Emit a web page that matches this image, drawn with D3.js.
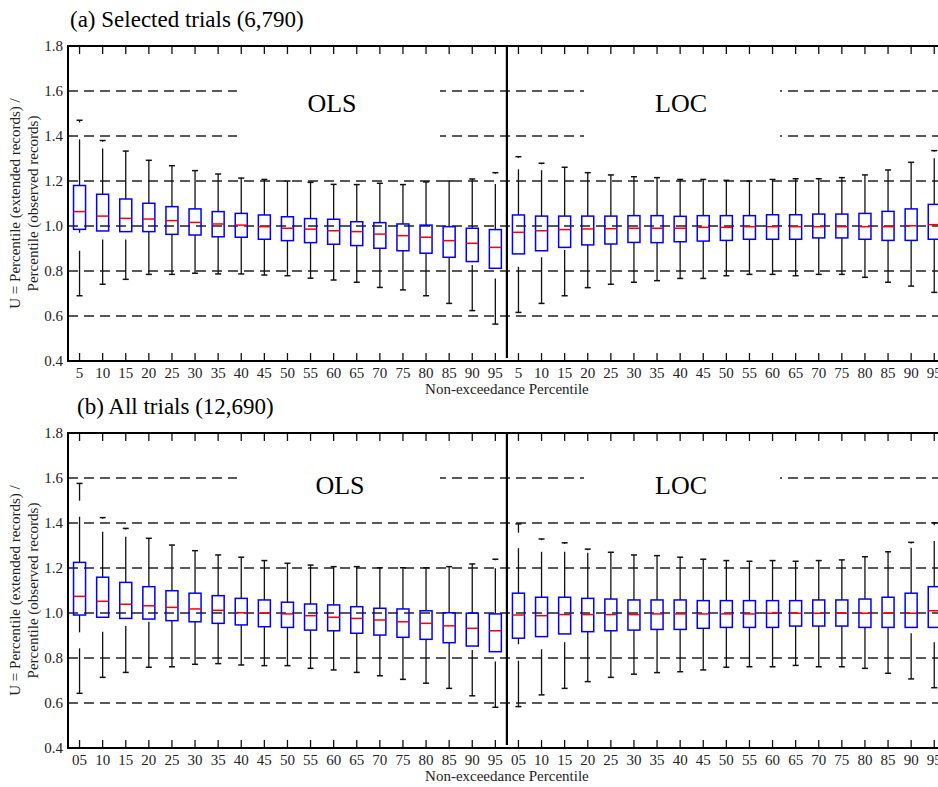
<!DOCTYPE html>
<html>
<head>
<meta charset="utf-8">
<script src="https://cdn.jsdelivr.net/npm/d3@7"></script>
<style>
  html, body { margin: 0; padding: 0; background: #fff; }
  svg { display: block; font-family: "Liberation Serif", "Times New Roman", serif; }
</style>
</head>
<body>
<div id="chart"></div>
<script>
// categories: 19 non-exceedance percentiles for OLS, then the same 19 for LOC
const percentiles = [5, 10, 15, 20, 25, 30, 35, 40, 45, 50, 55, 60, 65, 70, 75, 80, 85, 90, 95];
const methods = ["OLS", "LOC"];
const tickLabelsA = ["5","10","15","20","25","30","35","40","45","50","55","60","65","70","75","80","85","90","95"];
const tickLabelsB = ["05","10","15","20","25","30","35","40","45","50","55","60","65","70","75","80","85","90","95"];
const yTicks = [0.4, 0.6, 0.8, 1.0, 1.2, 1.4, 1.6, 1.8];

// (a) Selected trials -- OLS 5..95 then LOC 5..95
const selQ1  = [.985,.978,.975,.975,.963,.96,.952,.95,.941,.935,.926,.919,.913,.901,.89,.879,.861,.842,.812,
                .876,.89,.905,.916,.92,.927,.926,.93,.933,.936,.941,.941,.941,.947,.947,.941,.936,.936,.941];
const selMed = [1.064,1.044,1.034,1.031,1.024,1.016,1.009,1.004,.997,.99,.986,.979,.975,.964,.957,.95,.935,.923,.905,
                .972,.979,.984,.987,.988,.99,.99,.99,.994,.994,.997,.997,.997,.997,.997,.997,.997,1.001,1.006];
const selQ3  = [1.18,1.141,1.12,1.101,1.086,1.076,1.064,1.056,1.049,1.041,1.033,1.03,1.019,1.015,1.009,1.004,.997,.99,.984,
                1.049,1.044,1.044,1.044,1.044,1.046,1.046,1.043,1.046,1.046,1.046,1.05,1.05,1.053,1.053,1.056,1.065,1.076,1.096];
const selHi  = [1.47,1.38,1.333,1.292,1.268,1.246,1.231,1.213,1.207,1.2,1.194,1.185,1.184,1.19,1.184,1.196,1.2,1.209,1.237,
                1.308,1.279,1.261,1.237,1.227,1.219,1.215,1.207,1.207,1.203,1.2,1.207,1.21,1.21,1.215,1.227,1.249,1.283,1.335];
const selLo  = [.69,.741,.763,.785,.785,.79,.787,.787,.782,.779,.768,.76,.75,.727,.716,.69,.656,.624,.564,
                .616,.656,.69,.726,.741,.75,.757,.767,.767,.779,.785,.785,.779,.785,.785,.772,.75,.733,.705];
const selHiGap = [[1.385,1.46],[1.345,1.375],null,null,null,null,null,null,null,null,null,null,null,null,null,null,null,null,[1.187,1.232],
                  [1.252,1.303],[1.248,1.274],null,null,null,null,null,null,null,null,null,null,null,null,null,null,null,null,[1.301,1.33]];
const selLoGap = [[.89,.97],[.94,.978],[.94,.975],null,null,null,null,null,null,null,null,null,null,null,null,null,null,[.827,.842],[.767,.812],
                  [.819,.876],[.861,.89],[.893,.905],null,null,null,null,null,null,null,null,null,null,null,null,null,null,null,null];

// (b) All trials -- OLS 05..95 then LOC 05..95
const allQ1  = [.991,.981,.976,.973,.966,.961,.954,.947,.939,.936,.924,.921,.91,.902,.892,.883,.868,.853,.828,
                .888,.895,.907,.917,.921,.924,.927,.927,.932,.936,.936,.936,.942,.942,.942,.936,.936,.936,.936];
const allMed = [1.074,1.052,1.039,1.032,1.025,1.018,1.012,1.001,.999,.996,.988,.981,.976,.969,.961,.954,.943,.932,.921,
                .991,.988,.993,.993,.993,.993,.996,.996,.996,.996,.996,.999,.999,.999,.999,.999,.999,.999,1.01];
const allQ3  = [1.225,1.159,1.136,1.117,1.099,1.088,1.077,1.065,1.058,1.048,1.04,1.036,1.028,1.021,1.018,1.01,1.001,.999,.996,
                1.088,1.07,1.07,1.065,1.062,1.058,1.058,1.058,1.055,1.055,1.055,1.055,1.055,1.058,1.058,1.062,1.07,1.088,1.117];
const allHi  = [1.576,1.424,1.376,1.332,1.302,1.277,1.258,1.248,1.233,1.221,1.213,1.206,1.206,1.201,1.201,1.201,1.206,1.218,1.239,
                1.396,1.329,1.312,1.284,1.27,1.258,1.255,1.248,1.239,1.233,1.23,1.233,1.23,1.233,1.236,1.25,1.272,1.314,1.401];
const allLo  = [.643,.714,.736,.759,.761,.772,.775,.769,.766,.766,.754,.747,.736,.721,.705,.688,.665,.632,.581,
                .584,.636,.665,.695,.714,.728,.735,.739,.747,.759,.761,.761,.767,.761,.761,.754,.732,.707,.668];
const allHiGap = [[1.428,1.499],[1.361,1.419],[1.339,1.371],null,null,null,null,null,null,null,null,null,null,null,null,null,null,null,[1.199,1.234],
                  [1.288,1.357],[1.272,1.324],[1.272,1.307],[1.268,1.279],null,null,null,null,null,null,null,null,null,null,null,null,null,[1.29,1.309],[1.32,1.39]];
const allLoGap = [[.843,.914],[.917,.981],[.942,.976],[.961,.973],null,null,null,null,null,null,null,null,null,null,null,null,null,[.836,.853],[.784,.828],
                  [.788,.861],[.839,.895],[.87,.907],null,null,null,null,null,null,null,null,null,null,null,null,null,null,[.91,.936],[.87,.936]];

const W = 938, H = 787;
const plotLeft = 68, step = 23.1;
const nCat = percentiles.length * methods.length;

const svg = d3.select("#chart").append("svg")
  .attr("width", W)
  .attr("height", H)
  .attr("viewBox", `0 0 ${W} ${H}`);

const x = d3.scaleBand()
  .domain(d3.range(nCat))
  .range([plotLeft, plotLeft + step * nCat]);
const cx = i => x(i) + x.bandwidth() / 2;
const boxW = x.bandwidth() * 0.52;
const capW = boxW * 0.5;

function drawPanel(p) {
  const y = d3.scaleLinear().domain([0.4, 1.8]).range([p.bottom, p.top]);
  const g = svg.append("g");
  const rows = d3.range(nCat).map(i => ({
    i, q1: p.q1[i], med: p.med[i], q3: p.q3[i], hi: p.hi[i], lo: p.lo[i],
    hiGap: p.hiGap[i], loGap: p.loGap[i]
  }));

  // title
  svg.append("text")
    .attr("x", p.titleX).attr("y", p.top - 19)
    .attr("font-size", 23)
    .text(p.title);

  // dashed grid
  g.selectAll("line.grid")
    .data(yTicks.filter(v => v > 0.4 && v < 1.8))
    .join("line")
    .attr("class", "grid")
    .attr("x1", plotLeft).attr("x2", W)
    .attr("y1", d => y(d)).attr("y2", d => y(d))
    .attr("stroke", "#222")
    .attr("stroke-width", 1.3)
    .attr("stroke-dasharray", "10,6");

  // white boxes behind the method labels
  [[237, 440], [584, 780]].forEach(([a, b]) => {
    g.append("rect")
      .attr("x", a).attr("width", b - a)
      .attr("y", y(p.maskTop)).attr("height", y(p.maskBottom) - y(p.maskTop))
      .attr("fill", "#fff");
  });
  methods.forEach((m, k) => {
    g.append("text")
      .attr("x", p.methodX[k]).attr("y", p.top + p.methodDy)
      .attr("text-anchor", "middle")
      .attr("font-size", 26)
      .text(m);
  });

  // whiskers
  const segs = [];
  rows.forEach(d => {
    if (d.hiGap) { segs.push([d.i, d.q3, d.hiGap[0]], [d.i, d.hiGap[1], d.hi]); }
    else segs.push([d.i, d.q3, d.hi]);
    if (d.loGap) { segs.push([d.i, d.q1, d.loGap[1]], [d.i, d.loGap[0], d.lo]); }
    else segs.push([d.i, d.q1, d.lo]);
  });
  g.selectAll("line.whisker")
    .data(segs)
    .join("line")
    .attr("class", "whisker")
    .attr("x1", d => cx(d[0])).attr("x2", d => cx(d[0]))
    .attr("y1", d => y(d[1])).attr("y2", d => y(d[2]))
    .attr("stroke", "#111")
    .attr("stroke-width", 1.3);

  const caps = rows.flatMap(d => [[d.i, d.hi], [d.i, d.lo]]);
  g.selectAll("line.cap")
    .data(caps)
    .join("line")
    .attr("class", "cap")
    .attr("x1", d => cx(d[0]) - capW / 2).attr("x2", d => cx(d[0]) + capW / 2)
    .attr("y1", d => y(d[1])).attr("y2", d => y(d[1]))
    .attr("stroke", "#111")
    .attr("stroke-width", 1.5);

  // boxes
  g.selectAll("rect.box")
    .data(rows)
    .join("rect")
    .attr("class", "box")
    .attr("x", d => cx(d.i) - boxW / 2)
    .attr("width", boxW)
    .attr("y", d => y(d.q3))
    .attr("height", d => y(d.q1) - y(d.q3))
    .attr("fill", "none")
    .attr("stroke", "#0000ff")
    .attr("stroke-width", 1.5);

  g.selectAll("line.median")
    .data(rows)
    .join("line")
    .attr("class", "median")
    .attr("x1", d => cx(d.i) - boxW / 2).attr("x2", d => cx(d.i) + boxW / 2)
    .attr("y1", d => y(d.med)).attr("y2", d => y(d.med))
    .attr("stroke", "#ff0000")
    .attr("stroke-width", 1.5);

  // divider between OLS and LOC
  g.append("line")
    .attr("x1", x(percentiles.length)).attr("x2", x(percentiles.length))
    .attr("y1", p.top).attr("y2", p.bottom - 3)
    .attr("stroke", "#000")
    .attr("stroke-width", 2.2);

  // axes
  const yAxis = g.append("g")
    .attr("transform", `translate(${plotLeft},0)`)
    .call(d3.axisLeft(y).tickValues(yTicks).tickFormat(d3.format(".1f")).tickSize(0).tickPadding(5))
    .attr("font-family", null).attr("font-size", 15);
  yAxis.select(".domain").remove();
  yAxis.selectAll("text").attr("fill", "#222");

  const labels = p.tickLabels.concat(p.tickLabels);
  const xAxis = g.append("g")
    .attr("transform", `translate(0,${p.bottom})`)
    .call(d3.axisBottom(x).tickFormat(i => labels[i]).tickSizeInner(-8).tickSizeOuter(0).tickPadding(6))
    .attr("font-family", null).attr("font-size", 15);
  xAxis.select(".domain").remove();
  xAxis.selectAll("line").attr("stroke", "#111").attr("stroke-width", 1.3);
  xAxis.selectAll("text").attr("fill", "#222");

  const topAxis = g.append("g")
    .attr("transform", `translate(0,${p.top})`)
    .call(d3.axisTop(x).tickFormat("").tickSizeInner(-8).tickSizeOuter(0));
  topAxis.select(".domain").remove();
  topAxis.selectAll("line").attr("stroke", "#111").attr("stroke-width", 1.3);

  // frame
  const right = plotLeft + step * nCat;
  g.append("path")
    .attr("d", `M${right},${p.top}H${plotLeft}V${p.bottom}H${right}`)
    .attr("fill", "none")
    .attr("stroke", "#000")
    .attr("stroke-width", 2);

  // axis labels
  const midY = (p.top + p.bottom) / 2;
  ["U = Percentile (extended records) /", "Percentile (observed records)"].forEach((t, k) => {
    g.append("text")
      .attr("transform", `translate(${20 + k * 18},${midY}) rotate(-90)`)
      .attr("text-anchor", "middle")
      .attr("font-size", 15)
      .attr("fill", "#222")
      .text(t);
  });
  g.append("text")
    .attr("x", x(percentiles.length)).attr("y", p.bottom + 33)
    .attr("text-anchor", "middle")
    .attr("font-size", 15)
    .attr("fill", "#222")
    .text("Non-exceedance Percentile");
}

drawPanel({
  title: "(a) Selected trials (6,790)", titleX: 70,
  top: 46, bottom: 361,
  q1: selQ1, med: selMed, q3: selQ3, hi: selHi, lo: selLo, hiGap: selHiGap, loGap: selLoGap,
  tickLabels: tickLabelsA,
  maskTop: 1.64, maskBottom: 1.37, methodX: [332, 681], methodDy: 66
});

drawPanel({
  title: "(b) All trials (12,690)", titleX: 77,
  top: 433, bottom: 748,
  q1: allQ1, med: allMed, q3: allQ3, hi: allHi, lo: allLo, hiGap: allHiGap, loGap: allLoGap,
  tickLabels: tickLabelsB,
  maskTop: 1.64, maskBottom: 1.45, methodX: [340, 681], methodDy: 61
});
</script>
</body>
</html>
